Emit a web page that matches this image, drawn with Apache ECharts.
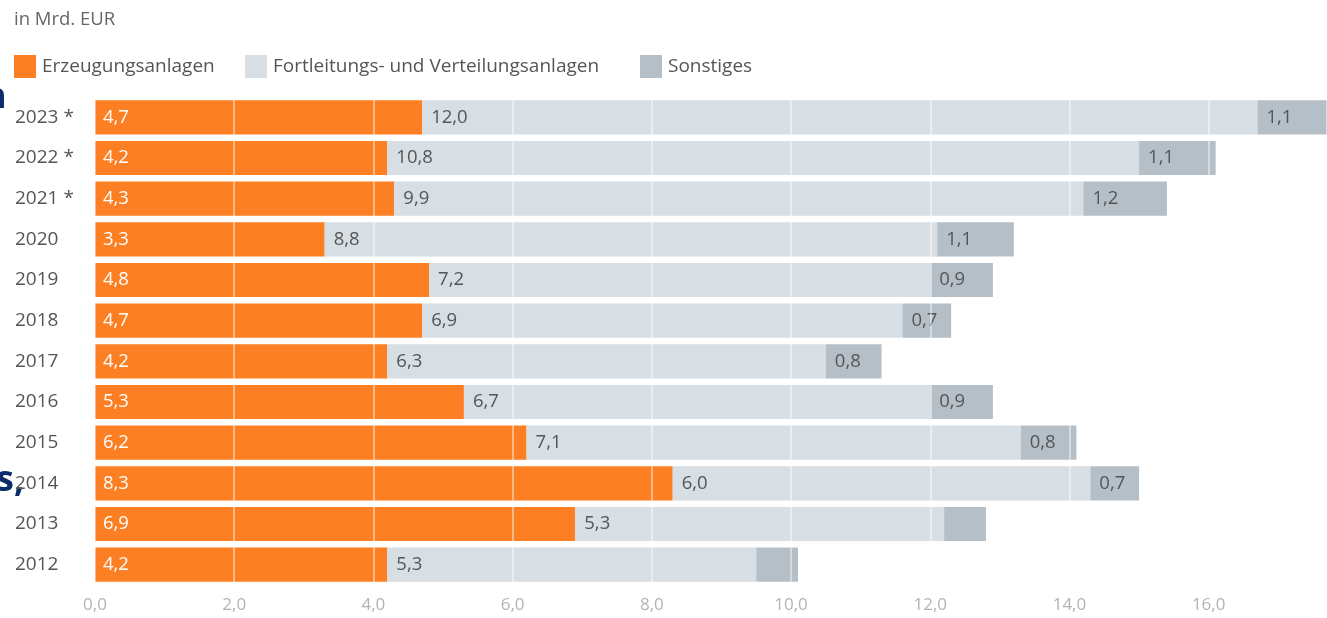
<!DOCTYPE html>
<html>
<head>
<meta charset="utf-8">
<script src="https://cdn.jsdelivr.net/npm/echarts@6/dist/echarts.min.js"></script>
<style>
  html, body { margin: 0; padding: 0; background: #fff; }
  #chart { width: 1327px; height: 618px; }
</style>
</head>
<body>
<div id="chart"></div>
<script>
// Jahre von unten nach oben
var jahre = ["2012", "2013", "2014", "2015", "2016", "2017", "2018", "2019", "2020", "2021 *", "2022 *", "2023 *"];
var erzeugung = [4.2, 6.9, 8.3, 6.2, 5.3, 4.2, 4.7, 4.8, 3.3, 4.3, 4.2, 4.7];
var fortleitung = [5.3, 5.3, 6.0, 7.1, 6.7, 6.3, 6.9, 7.2, 8.8, 9.9, 10.8, 12.0];
var sonstiges = [0.6, 0.6, 0.7, 0.8, 0.9, 0.8, 0.7, 0.9, 1.1, 1.2, 1.1, 1.1];
// bei 2012 und 2013 steht kein Wert am Balken
var sonstigesBeschriftet = [false, false, true, true, true, true, true, true, true, true, true, true];
var xTicks = ["0,0", "2,0", "4,0", "6,0", "8,0", "10,0", "12,0", "14,0", "16,0"];

function komma(v) {
  return v.toFixed(1).replace(".", ",");
}

// ein Legendeneintrag pro Block, damit die Abstände passen
function legendeAn(name, left) {
  return {
    left: left,
    top: 50,
    icon: "rect",
    itemWidth: 22,
    itemHeight: 23,
    textStyle: { fontSize: 19, color: "#555", padding: [0, 0, 0, 1] },
    data: [name]
  };
}

var chart = echarts.init(document.getElementById("chart"));

var option = {
  textStyle: { fontFamily: "Open Sans" },
  title: {
    text: "in Mrd. EUR",
    left: 9,
    top: 5,
    textStyle: { fontSize: 18.5, fontWeight: "normal", color: "#666" }
  },
  legend: [
    legendeAn("Erzeugungsanlagen", 9),
    legendeAn("Fortleitungs- und Verteilungsanlagen", 240),
    legendeAn("Sonstiges", 635)
  ],
  graphic: [
    // abgeschnittene Textreste vom Seitenrand
    { type: "text", left: -17, top: 80, style: { text: "n", fill: "#0b2d6b", font: "bold 36px 'Open Sans'" } },
    { type: "text", left: -4, top: 463, style: { text: "s,", fill: "#0b2d6b", font: "bold 36px 'Open Sans'" } }
  ],
  grid: { left: 95, right: 0, top: 97, bottom: 33 },
  xAxis: {
    type: "value",
    min: 0,
    max: 17.7,
    interval: 2,
    z: 5,
    axisLine: { show: false },
    axisTick: { show: false },
    splitLine: { lineStyle: { color: "rgba(255,255,255,0.6)", width: 1.5 } },
    axisLabel: {
      showMaxLabel: false,
      margin: 12,
      fontSize: 17,
      color: "#b3b3b3",
      formatter: function (v) {
        var i = Math.round(v / 2);
        return xTicks[i] !== undefined ? xTicks[i] : "";
      }
    }
  },
  yAxis: {
    type: "category",
    data: jahre,
    axisLine: { show: false },
    axisTick: { show: false },
    axisLabel: { align: "left", margin: 80, fontSize: 19, color: "#555" }
  },
  series: [
    {
      name: "Erzeugungsanlagen",
      type: "bar",
      stack: "summe",
      barCategoryGap: "16%",
      itemStyle: { color: "#fd7f23" },
      label: {
        show: true,
        position: "insideLeft",
        offset: [3, 0],
        fontSize: 18.5,
        color: "#fff",
        formatter: function (p) { return komma(p.value); }
      },
      data: erzeugung
    },
    {
      name: "Fortleitungs- und Verteilungsanlagen",
      type: "bar",
      stack: "summe",
      itemStyle: { color: "#d7dee4" },
      label: {
        show: true,
        position: "insideLeft",
        offset: [4, 0],
        fontSize: 18.5,
        color: "#555",
        formatter: function (p) { return komma(p.value); }
      },
      data: fortleitung
    },
    {
      name: "Sonstiges",
      type: "bar",
      stack: "summe",
      itemStyle: { color: "#b5bfc8" },
      label: {
        show: true,
        position: "insideLeft",
        offset: [4, 0],
        fontSize: 18.5,
        color: "#555",
        formatter: function (p) {
          return sonstigesBeschriftet[p.dataIndex] ? komma(p.value) : "";
        }
      },
      data: sonstiges
    }
  ]
};

option && chart.setOption(option);
</script>
</body>
</html>
